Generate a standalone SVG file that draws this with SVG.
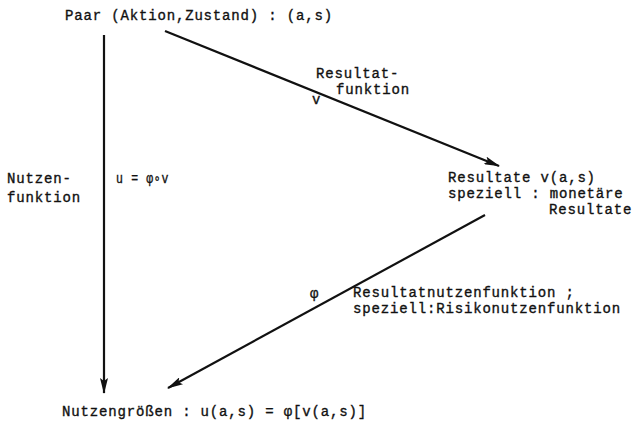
<svg xmlns="http://www.w3.org/2000/svg" width="633" height="422" viewBox="0 0 633 422">
<style>
text{font-family:"Liberation Mono","Courier New",monospace;font-size:14px;letter-spacing:0.84px;fill:#111;stroke:#111;stroke-width:0.35;}
.c{stroke:#111;stroke-width:2.2;fill:none;}
</style>
<defs>
<marker id="ah" markerWidth="16" markerHeight="8" refX="15" refY="4" orient="auto" markerUnits="userSpaceOnUse">
<path d="M0,0 L16,4 L0,8 L3,4 Z" fill="#111"/>
</marker>
</defs>
<rect width="633" height="422" fill="#fff"/>
<g id="connectors">
<line class="c" x1="104" y1="35" x2="104" y2="393" marker-end="url(#ah)"/>
<line class="c" x1="165" y1="31" x2="499" y2="166" marker-end="url(#ah)"/>
<line class="c" x1="485" y1="215" x2="168" y2="388" marker-end="url(#ah)"/>
</g>
<g id="node-paar"><text x="65" y="20">Paar (Aktion,Zustand) : (a,s)</text></g>
<g id="label-resultatfunktion">
<text x="316" y="78">Resultat-</text>
<text x="336" y="94">funktion</text>
<text x="312" y="104">v</text>
</g>
<g id="label-nutzenfunktion">
<text x="7" y="183">Nutzen-</text>
<text x="7" y="202">funktion</text>
<text x="116" y="183" textLength="53" lengthAdjust="spacingAndGlyphs">u = φ∘v</text>
</g>
<g id="node-resultate">
<text x="448" y="182">Resultate v(a,s)</text>
<text x="448" y="198">speziell : monetäre</text>
<text x="549" y="214">Resultate</text>
</g>
<g id="label-resultatnutzen">
<text x="310" y="298">φ</text>
<text x="353" y="297">Resultatnutzenfunktion ;</text>
<text x="353" y="313">speziell:Risikonutzenfunktion</text>
</g>
<g id="node-nutzen"><text x="62" y="416">Nutzengrößen : u(a,s) = φ[v(a,s)]</text></g>
</svg>
